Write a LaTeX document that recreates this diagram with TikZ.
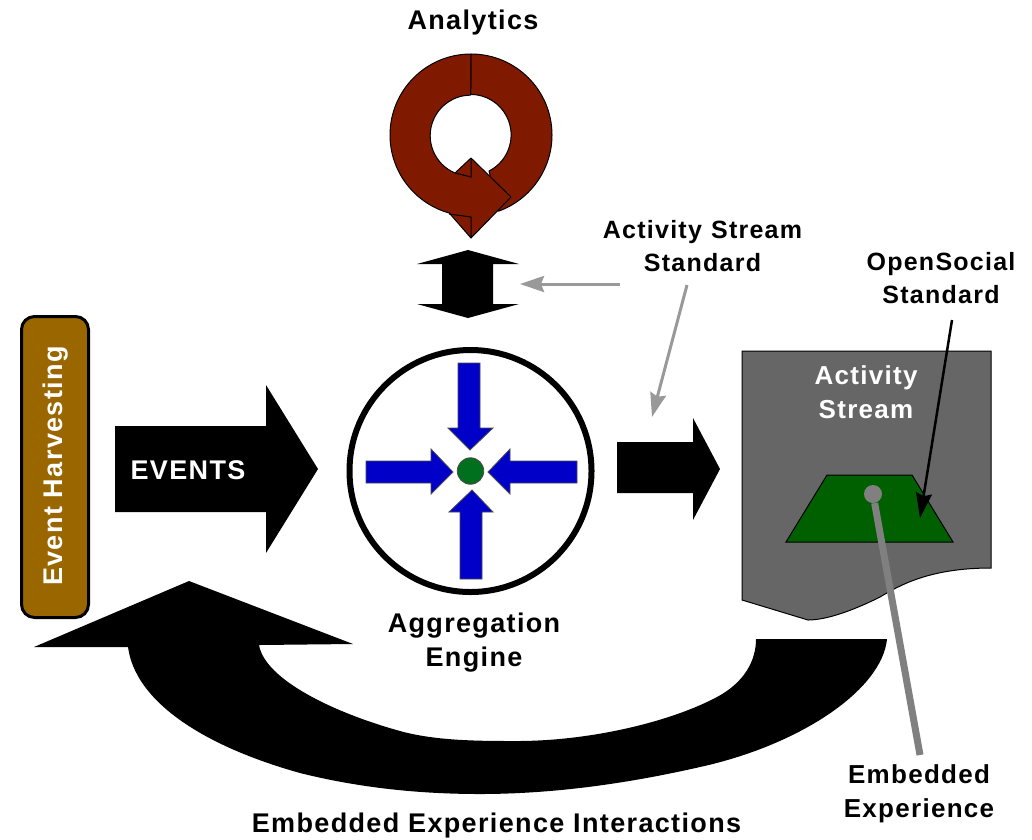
\documentclass[tikz,border=0pt]{standalone}
\usepackage{fontspec}
\setmainfont[LetterSpace=5]{Liberation Sans}
\usetikzlibrary{arrows.meta}
\definecolor{ringred}{HTML}{7F1A00}
\definecolor{blu}{HTML}{0000C8}
\definecolor{harv}{HTML}{996600}
\definecolor{hubg}{HTML}{00701F}
\definecolor{trap}{HTML}{006000}
\tikzset{
  lbl/.style={font=\fontsize{27}{34}\selectfont\bfseries, align=center, inner sep=0pt, text=black},
  smlbl/.style={lbl, font=\fontsize{25}{33}\selectfont\bfseries},
  midlbl/.style={lbl, font=\fontsize{26}{33.5}\selectfont\bfseries},
  wlbl/.style={lbl, text=white},
  blk/.style={fill=black, draw=none},
  bluarrow/.style={fill=blu, draw=black!70, line width=0.8pt},
  brn/.style={fill=ringred, draw=black, line width=1pt, line join=round},
  grayarrow/.style={color=black!40, line width=3pt, -{Stealth[length=24pt,width=16pt,inset=3pt]}},
}
\begin{document}
\begin{tikzpicture}[x=1pt,y=-1pt]
\useasboundingbox (0,0) rectangle (1032,839);
% ring
\path[brn] (471,54) arc[start angle=-90,end angle=70,radius=81] -- (489,171) arc[start angle=63,end angle=-90,radius=40.5] -- cycle;
\path[brn] (471,54) arc[start angle=-90,end angle=-254.4,radius=81] -- (471,238) -- (511,197) -- (471,158) -- (455,173) arc[start angle=112.8,end angle=270,radius=40.5] -- cycle;
\draw[line width=1pt] (455,173) -- (471,177) -- (471,158);
\draw[line width=1pt] (449,214) -- (471,217) -- (471,238);
\node[lbl] (analytics) at (473,23) {Analytics};
% double arrow
\path[blk] (468,250) -- (519,264) -- (493,264) -- (493,304) -- (519,304) -- (468,318) -- (417,304) -- (442,304) -- (442,264) -- (417,264) -- cycle;
\node[smlbl] (asstd) at (702.5,246) {Activity\kern1pt\ Stream\\Standard};
\node[smlbl] (osstd) at (941,278) {OpenSocial\\Standard};
\coordinate (g1) at (620,284); \coordinate (g1e) at (520,284);
\coordinate (g2) at (687,285); \coordinate (g2e) at (652,417);
\draw[grayarrow] (g1) -- (g1e);
\draw[grayarrow] (g2) -- (g2e);
% box
\node[draw=black, line width=3pt, fill=harv, rounded corners=13pt, minimum width=67pt, minimum height=301pt, inner sep=0pt] (harvest) at (55,467) {};
\node[wlbl, rotate=90] (harvtxt) at (56,466) {Event Harvesting};
% events
\path[blk] (115,426) -- (266,426) -- (266,385) -- (318,469) -- (266,553) -- (266,512) -- (115,512) -- cycle;
\node[wlbl] (events) at (188,470) {EVENTS};
% engine
\node[circle, draw=black, line width=6pt, fill=white, minimum size=242pt, inner sep=0pt] (engine) at (470.5,471) {};
\path[bluarrow] (458,363) -- (480,363) -- (480,428) -- (493,428) -- (470,450) -- (448,428) -- (458,428) -- cycle;
\path[bluarrow] (460,579) -- (482,579) -- (482,512) -- (493,512) -- (472,490) -- (449,512) -- (460,512) -- cycle;
\path[bluarrow] (366,461) -- (431,461) -- (431,449) -- (453,472) -- (431,494) -- (431,483) -- (366,483) -- cycle;
\path[bluarrow] (577,461) -- (510,461) -- (510,449) -- (488,472) -- (510,494) -- (510,483) -- (577,483) -- cycle;
\node[circle, draw=black!70, line width=0.8pt, fill=hubg, minimum size=26.5pt, inner sep=0pt] (hub) at (470.5,471) {};
\node[lbl] (aggr) at (474,643) {Aggregation\\Engine};
% out arrow
\path[blk] (617,442) -- (693,442) -- (693,418) -- (720,469) -- (693,520) -- (693,493) -- (617,493) -- cycle;
% doc
\path[fill=black!60, draw=black, line width=1pt] (742,351) -- (991,351) -- (991,568) .. controls (930,568) and (900,585) .. (880,597) .. controls (850,612) and (825,620) .. (808,620) -- (742,600) -- cycle;
\node[midlbl, text=white] (stream) at (866,392) {Activity\\Stream};
\path[fill=trap, draw=black, line width=1pt] (786,542) -- (827,475) -- (912,475) -- (953,542) -- cycle;
\coordinate (b1) at (952,320); \coordinate (b1e) at (920,518);
\draw[line width=2.5pt, -{Stealth[length=25pt,width=16pt,inset=3pt]}] (b1) -- (b1e);
\node[circle, fill=black!50, minimum size=18pt, inner sep=0pt] (dot) at (873,494) {};
\node[midlbl] (emb) at (919,794) {Embedded\\Experience};
\coordinate (e1) at (920,755);
\draw[black!50, line width=7pt] (dot) -- (e1);
% curved arrow
\path[blk] (887,639) .. controls (882,690) and (800,745) .. (700,767) .. controls (630,783) and (555,794) .. (480,794) .. controls (420,794) and (360,788) .. (300,773) .. controls (200,745) and (135,700) .. (128,647) -- (34,647) -- (189,581) -- (353,644) -- (259,645) .. controls (265,680) and (335,713) .. (400,731) .. controls (436,741) and (480,741) .. (517,741) .. controls (590,741) and (670,722) .. (717,697) .. controls (745,682) and (756,660) .. (756,639) -- cycle;
\node[lbl] (inter) at (496.5,826) {Embedded Experience Interactions};
\end{tikzpicture}
\end{document}
